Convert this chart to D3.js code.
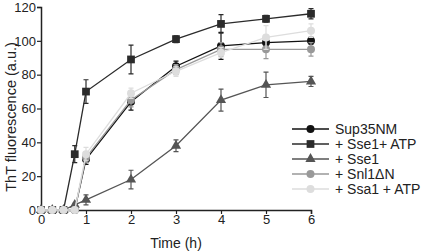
<!DOCTYPE html>
<html>
<head>
<meta charset="utf-8">
<script src="https://cdn.jsdelivr.net/npm/d3@7"></script>
<style>
  body { margin: 0; background: #fff; }
  svg { font-family: 'Liberation Sans', Arial, sans-serif; }
</style>
</head>
<body>
<div id="container"></div>
<script>
const WIDTH = 421;
const HEIGHT = 251;

const times = [0, 0.25, 0.5, 0.75, 1, 2, 3, 4, 5, 6];
const seriesNames = ['Sup35NM', '+ Sse1+ ATP', '+ Sse1', '+ Snl1\u0394N', '+ Ssa1 + ATP'];
const sup35 = [0, 0, 0, 0, 30, 64, 85, 97, 99, 100];
const sup35Err = [0, 0, 0, 0, 3, 5, 3, 8, 3, 2];
const sse1Atp = [0, 0, 0, 33, 70, 89, 101, 110, 113, 116];
const sse1AtpErr = [0, 0, 0, 5, 7, 8.5, 2, 5.5, 2, 3];
const sse1 = [0, 0, 0, 3, 6, 18, 38, 65, 74, 76];
const sse1Err = [0, 0, 0, 1, 3, 5.5, 3.5, 6.5, 7.5, 3];
const snl1 = [0, 0, 0, 0, 31, 65, 83, 95, 95, 95];
const snl1Err = [0, 0, 0, 0, 3, 4, 3, 4, 5.5, 4];
const ssa1 = [0, 0, 0, 0, 33, 69, 82, 93, 102, 106];
const ssa1Err = [0, 0, 0, 0, 4, 3, 3, 3, 7, 4];
const xTicks = [0, 1, 2, 3, 4, 5, 6];
const yTicks = [0, 20, 40, 60, 80, 100, 120];

const series = [
  { name: seriesNames[0], values: sup35, errs: sup35Err, color: '#111', shape: d3.symbolCircle, size: 50 },
  { name: seriesNames[1], values: sse1Atp, errs: sse1AtpErr, color: '#2b2b2b', shape: d3.symbolSquare, size: 60 },
  { name: seriesNames[2], values: sse1, errs: sse1Err, color: '#555', shape: d3.symbolTriangle, size: 45 },
  { name: seriesNames[3], values: snl1, errs: snl1Err, color: '#999', shape: d3.symbolCircle, size: 50 },
  { name: seriesNames[4], values: ssa1, errs: ssa1Err, color: '#ddd', shape: d3.symbolCircle, size: 50 }
];

const svg = d3.select('#container')
              .append('svg')
                .attr('width', WIDTH)
                .attr('height', HEIGHT);

const xscale = d3.scaleLinear().domain([0, 6]).range([41, 311]);
const yscale = d3.scaleLinear().domain([0, 120]).range([210, 7]);

// axes
const axisBottom = d3.axisBottom(xscale).tickValues(xTicks).tickFormat(d3.format('d'))
                     .tickSize(4).tickPadding(1);
const axisLeft = d3.axisLeft(yscale).tickValues(yTicks).tickFormat(d3.format('d'))
                   .tickSize(4).tickPadding(1);

const gx = svg.append('g')
              .attr('transform', `translate(0, ${yscale(0)})`)
              .call(axisBottom);
const gy = svg.append('g')
              .attr('transform', `translate(${xscale(0)}, 0)`)
              .call(axisLeft);

[gx, gy].forEach(g => {
  g.select('.domain').attr('stroke', '#222').attr('stroke-width', 1.5);
  g.selectAll('.tick line').attr('stroke', '#222').attr('stroke-width', 1.2);
  g.selectAll('.tick text').attr('fill', '#222').style('font-size', '13px')
   .style('font-family', "'Liberation Sans', Arial, sans-serif");
});

svg.append('text')
   .attr('x', xscale(3))
   .attr('y', 248)
   .attr('text-anchor', 'middle')
   .style('font-size', '14px')
   .attr('fill', '#222')
   .text('Time (h)');

svg.append('text')
   .attr('transform', `translate(16, ${yscale(55)}) rotate(-90)`)
   .attr('text-anchor', 'middle')
   .style('font-size', '14.5px')
   .attr('fill', '#222')
   .text('ThT fluorescence (a.u.)');

const line = d3.line()
               .x((d, i) => xscale(times[i]))
               .y(d => yscale(d));

series.forEach(s => {
  const g = svg.append('g');
  g.append('path')
   .attr('d', line(s.values))
   .attr('fill', 'none')
   .attr('stroke', s.color)
   .attr('stroke-width', 1.3);

  s.values.forEach((v, i) => {
    const e = s.errs[i];
    if (e <= 0) return;
    const x = xscale(times[i]);
    g.append('path')
     .attr('d', `M${x},${yscale(v - e)}V${yscale(v + e)}M${x - 2.5},${yscale(v - e)}h5M${x - 2.5},${yscale(v + e)}h5`)
     .attr('stroke', s.color)
     .attr('stroke-width', 1.2)
     .attr('fill', 'none');
  });

  g.selectAll('.pt')
   .data(s.values)
   .enter()
   .append('path')
     .attr('transform', (d, i) => `translate(${xscale(times[i])}, ${yscale(d)})`)
     .attr('d', d3.symbol().type(s.shape).size(s.size))
     .attr('fill', s.color);
});

// legend
const legend = svg.append('g').attr('transform', 'translate(292, 129)');
series.forEach((s, i) => {
  const row = legend.append('g').attr('transform', `translate(0, ${i * 15})`);
  row.append('line')
     .attr('x1', 0).attr('x2', 37)
     .attr('stroke', s.color)
     .attr('stroke-width', 1.5);
  row.append('path')
     .attr('transform', 'translate(18.5, 0)')
     .attr('d', d3.symbol().type(s.shape).size(s.size))
     .attr('fill', s.color);
  row.append('text')
     .attr('x', 43)
     .attr('y', 5)
     .style('font-size', '14px')
     .attr('fill', '#222')
     .text(s.name);
});
</script>
</body>
</html>
